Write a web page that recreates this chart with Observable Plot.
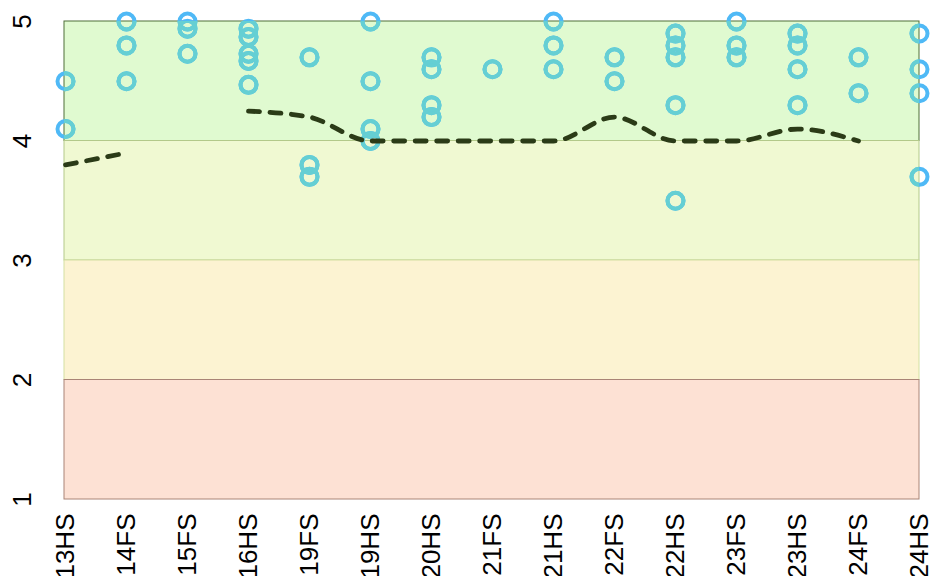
<!DOCTYPE html>
<html>
<head>
<meta charset="utf-8">
<script src="https://cdn.jsdelivr.net/npm/d3@7"></script>
<script src="https://cdn.jsdelivr.net/npm/@observablehq/plot@0.6"></script>
<style>
  html, body { margin: 0; padding: 0; background: #fff; }
  #chart svg { display: block; }
</style>
</head>
<body>
<div id="chart"></div>
<script>
// ---- data ----
const categories = ["13HS","14FS","15FS","16HS","19FS","19HS","20HS","21FS","21HS","22FS","22HS","23FS","23HS","24FS","24HS"];
const ratings = [
  [4.5, 4.1],
  [5.0, 4.8, 4.5],
  [5.0, 4.94, 4.73],
  [4.94, 4.87, 4.73, 4.67, 4.47],
  [4.7, 3.8, 3.7],
  [5.0, 4.5, 4.1, 4.0],
  [4.7, 4.6, 4.3, 4.2],
  [4.6],
  [5.0, 4.8, 4.6],
  [4.7, 4.5],
  [4.9, 4.8, 4.7, 4.3, 3.5],
  [5.0, 4.8, 4.7],
  [4.9, 4.8, 4.6, 4.3],
  [4.7, 4.4],
  [4.9, 4.6, 4.4, 3.7]
];
const averages = [3.8, 3.9, null, 4.25, 4.2, 4.0, 4.0, 4.0, 4.0, 4.2, 4.0, 4.0, 4.1, 4.0, null];
const bandLow  = [4, 3, 2, 1];
const bandHigh = [5, 4, 3, 2];
const yTicks = [1, 2, 3, 4, 5];

// ---- styles ----
const bandFill   = ["#e0fad0", "#f0f9d2", "#fcf3d2", "#fde1d4"];
const bandStroke = ["#4f6e38", "#b3c98a", "#d3e0a2", "#a98476"];

// ---- tables ----
const points = categories.flatMap((c, i) => ratings[i].map(v => ({cat: c, value: v})));
const meanLine = categories.map((c, i) => ({cat: c, value: averages[i] == null ? NaN : averages[i]}));

const bandMarks = bandLow.map((lo, i) =>
  Plot.rect([{lo, hi: bandHigh[i]}], {y1: "lo", y2: "hi", fill: bandFill[i], stroke: bandStroke[i], strokeWidth: 1})
);

const chart = Plot.plot({
  width: 933,
  height: 576,
  marginLeft: 64,
  marginRight: 14,
  marginTop: 21,
  marginBottom: 77,
  style: {fontFamily: "'Liberation Sans', Arial, sans-serif", fontSize: "26px", color: "#000", background: "#fff"},
  x: {type: "point", domain: categories, padding: 0},
  y: {domain: [1, 5]},
  marks: [
    ...bandMarks,
    Plot.dot(points, {x: "cat", y: "value", r: 8, fill: "none", stroke: "#4fb9f6", strokeWidth: 4}),
    Plot.dot(points, {x: "cat", y: "value", r: 8, fill: "none", stroke: "#65cfd3", strokeWidth: 4, clip: true}),
    Plot.line(meanLine, {x: "cat", y: "value", stroke: "#2b3b17", strokeWidth: 4.8, strokeDasharray: "11,10.5", curve: "monotone-x"}),
    Plot.axisY({ticks: yTicks, tickFormat: d => String(d), tickSize: 0, tickRotate: -90, tickPadding: 34, fontSize: 26, label: null}),
    Plot.axisX({tickSize: 0, tickRotate: -90, tickPadding: 14, fontSize: 26, label: null})
  ]
});
document.getElementById("chart").appendChild(chart);
</script>
</body>
</html>
